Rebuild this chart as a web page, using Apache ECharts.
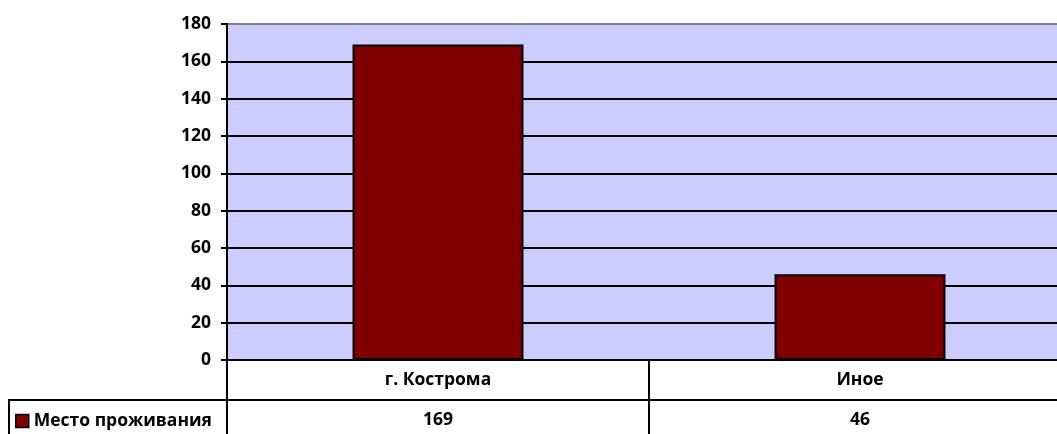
<!DOCTYPE html>
<html>
<head>
<meta charset="utf-8">
<script src="https://cdn.jsdelivr.net/npm/echarts@6/dist/echarts.min.js"></script>
<style>
  html, body { margin: 0; padding: 0; background: #fff; overflow: hidden; }
  /* the plot continues past the right edge of the window, as in the source */
  #chart { width: 1071px; height: 434px; }
</style>
</head>
<body>
<div id="chart"></div>
<script>
// data
const categories = ["г. Кострома", "Иное"];
const seriesName = "Место проживания";
const values = [169, 46];

const font = "'Open Sans', 'Liberation Sans', sans-serif";
const fs = 17.5;

const chart = echarts.init(document.getElementById("chart"));

const option = {
  animation: false,
  textStyle: { fontFamily: font },
  grid: { left: 227, right: 0, top: 24, bottom: 74 },
  legend: {
    data: [seriesName],
    left: 15,
    top: 412,
    padding: 0,
    icon: "rect",
    itemWidth: 13,
    itemHeight: 13,
    textStyle: { fontFamily: font, fontWeight: "bold", fontSize: fs, color: "#000" },
    itemStyle: { borderColor: "#000", borderWidth: 1.5 },
  },
  xAxis: [
    {
      type: "category",
      data: categories,
      axisLine: { lineStyle: { color: "#000", width: 2 } },
      axisTick: { show: true, length: 74, lineStyle: { color: "#000", width: 2 } },
      axisLabel: { margin: 11, fontFamily: font, fontWeight: "bold", fontSize: fs, color: "#000" },
    },
    {
      type: "category",
      data: values.map(String),
      position: "bottom",
      offset: 40,
      axisLine: { show: true, lineStyle: { color: "#000", width: 2 } },
      axisTick: { show: false },
      axisLabel: { margin: 11, fontFamily: font, fontWeight: "bold", fontSize: fs, color: "#000" },
    },
  ],
  yAxis: {
    type: "value",
    min: 0,
    max: 180,
    interval: 20,
    axisLine: { show: true, lineStyle: { color: "#000", width: 2 } },
    axisTick: { show: true, length: 6, lineStyle: { color: "#000", width: 2 } },
    axisLabel: { margin: 16, fontFamily: font, fontWeight: "bold", fontSize: fs, color: "#000" },
    splitLine: { show: true, lineStyle: { color: "#000", width: 2 } },
    splitArea: { show: true, areaStyle: { color: ["#ccccff", "#ccccff"] } },
  },
  series: [
    {
      name: seriesName,
      type: "bar",
      data: values,
      barWidth: "40.5%",
      itemStyle: { color: "#800000", borderColor: "#000", borderWidth: 2 },
    },
  ],
  graphic: [
    {
      type: "line",
      shape: { x1: 9, y1: 400, x2: 227, y2: 400 },
      style: { stroke: "#000", lineWidth: 2 },
    },
    {
      type: "line",
      shape: { x1: 9, y1: 399, x2: 9, y2: 434 },
      style: { stroke: "#000", lineWidth: 2 },
    },
    {
      // top gridline is grey in the reference
      type: "line",
      shape: { x1: 228, y1: 24, x2: 1071, y2: 24 },
      style: { stroke: "#808080", lineWidth: 2 },
      z: 10,
    },
  ],
};

chart.setOption(option);
</script>
</body>
</html>
